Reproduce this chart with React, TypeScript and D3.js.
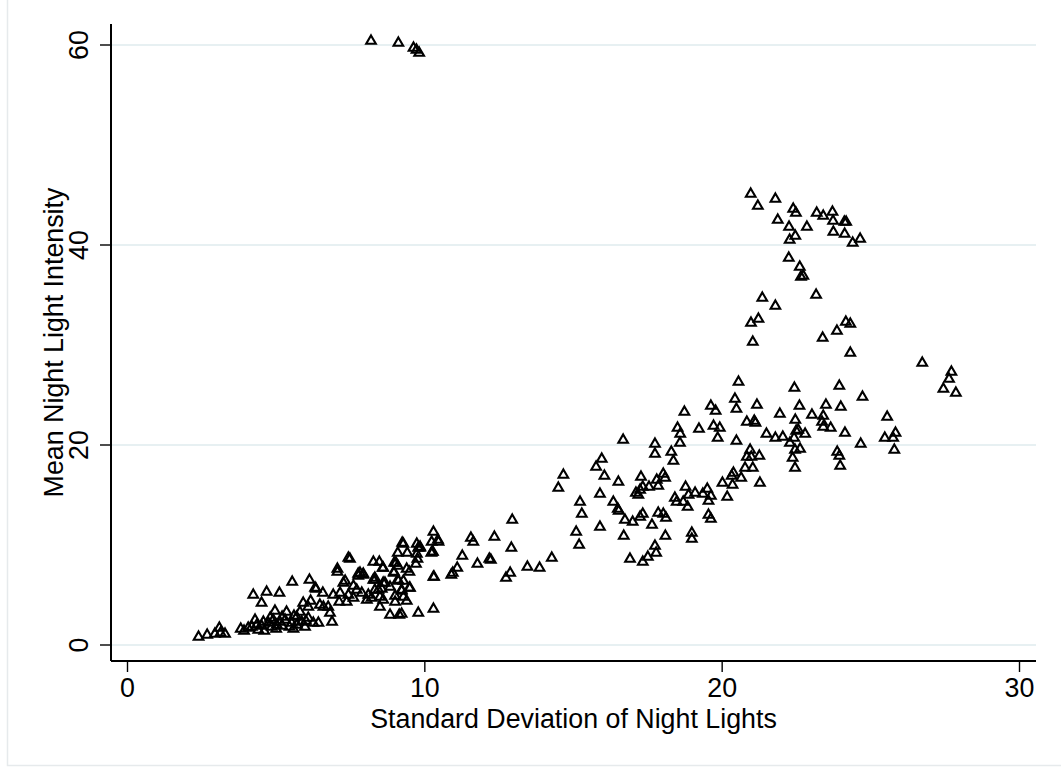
import React from 'react';
import * as d3 from 'd3';

// [standard deviation, mean]
const topOutliers: [number, number][] = [
  [8.19, 60.4], [9.11, 60.2], [9.62, 59.7], [9.72, 59.5], [9.81, 59.2],
];

const upperCluster: [number, number][] = [
  [20.96, 45.1], [21.2, 43.9], [21.79, 44.6], [22.39, 43.6], [22.48, 43.2], [21.87, 42.5],
  [22.25, 41.8], [22.85, 41.8], [22.46, 40.9], [22.27, 40.5], [23.18, 43.2], [23.4, 42.9],
  [23.71, 43.3], [23.73, 42.4], [24.11, 42.3], [24.17, 42.3], [23.74, 41.3], [24.12, 41.1],
  [24.39, 40.2], [24.64, 40.6], [22.24, 38.7], [22.61, 37.8], [22.65, 36.8], [22.73, 36.9],
  [23.16, 35.0], [21.35, 34.7], [21.79, 33.9], [21.22, 32.6], [20.97, 32.2], [21.03, 30.3],
  [24.16, 32.3], [24.31, 32.1], [23.86, 31.4], [23.38, 30.7], [24.31, 29.2], [26.73, 28.2],
  [27.71, 27.3], [27.63, 26.6], [27.44, 25.6], [27.86, 25.2],
];

const rightCluster: [number, number][] = [
  [20.55, 26.3], [22.43, 25.7], [23.94, 25.9], [24.72, 24.8], [20.43, 24.6], [20.48, 23.6],
  [21.17, 24.0], [19.62, 23.9], [19.78, 23.4], [18.73, 23.3], [22.6, 23.9], [23.49, 24.0],
  [23.99, 23.8], [21.94, 23.1], [23.02, 23.0], [23.4, 22.9], [25.55, 22.8], [18.5, 21.7],
  [18.59, 21.1], [19.22, 21.6], [19.71, 21.9], [19.92, 21.7], [19.85, 20.7], [20.48, 20.4],
  [20.83, 22.3], [21.08, 22.4], [21.12, 22.2], [22.46, 22.5], [21.49, 21.1], [21.79, 20.7],
  [22.04, 20.8], [22.49, 21.4], [22.56, 21.5], [22.79, 21.1], [22.42, 20.7], [22.28, 20.2],
  [23.36, 22.3], [23.4, 21.8], [23.65, 21.7], [24.13, 21.2], [24.66, 20.1], [25.47, 20.7],
  [25.75, 20.7], [25.83, 21.2], [25.79, 19.5], [17.74, 20.1], [17.74, 19.1], [18.29, 19.3],
  [18.36, 18.4], [18.58, 20.2], [22.45, 19.5], [22.62, 19.6], [22.37, 18.7], [22.45, 17.7],
  [23.87, 19.3], [23.94, 18.9], [23.97, 17.9], [20.94, 19.5], [20.83, 18.8], [20.98, 18.8],
  [21.25, 18.9], [20.77, 17.7], [21.03, 17.7], [20.38, 17.2], [20.32, 16.9], [20.64, 16.7],
  [20.01, 16.2], [20.35, 16.0], [21.27, 16.2], [20.17, 14.8], [19.35, 15.1], [19.5, 15.6],
  [19.62, 14.9], [19.54, 14.4], [19.54, 13.0], [19.62, 12.6], [18.87, 15.0],
];

const midCluster: [number, number][] = [
  [16.67, 20.5], [15.95, 18.6], [15.76, 17.8], [16.04, 16.9], [14.66, 17.0], [14.49, 15.7],
  [16.51, 16.3], [17.27, 16.8], [15.89, 15.1], [15.22, 14.3], [15.28, 13.1], [15.09, 11.3],
  [15.19, 10.0], [15.89, 11.8], [16.34, 14.3], [16.49, 13.6], [16.52, 13.4], [16.73, 12.5],
  [16.99, 12.3], [17.24, 12.8], [17.33, 13.1], [17.1, 15.2], [17.18, 15.0], [17.24, 15.5],
  [17.33, 15.8], [17.54, 15.8], [17.8, 16.5], [17.85, 15.9], [18.02, 17.1], [18.08, 16.7],
  [17.64, 12.0], [17.85, 13.2], [18.02, 13.1], [18.11, 12.7], [18.09, 10.9], [16.69, 10.9],
  [17.74, 9.9], [17.78, 9.2], [17.5, 8.8], [17.33, 8.3], [16.9, 8.6], [18.77, 15.8],
  [18.41, 14.7], [18.47, 14.3], [18.69, 14.3], [18.84, 13.8], [19.09, 15.2], [18.98, 11.2],
  [18.98, 10.6], [12.94, 12.5], [12.91, 9.7], [12.87, 7.2], [12.73, 6.7], [13.45, 7.8],
  [13.86, 7.7], [14.27, 8.7], [12.34, 10.8], [12.17, 8.6], [12.22, 8.5], [11.77, 8.1],
  [11.55, 10.7], [11.63, 10.3], [11.26, 8.9], [11.09, 7.7], [10.94, 7.2], [10.89, 7.0],
  [10.29, 11.3], [10.44, 10.5], [10.27, 9.3], [10.22, 9.2], [10.31, 6.8],
];

const lowCluster: [number, number][] = [
  [9.73, 10.1], [9.84, 9.7], [9.75, 8.6], [9.7, 8.1], [9.24, 10.2], [9.09, 9.2], [9.41, 9.2],
  [9.03, 8.2], [9.09, 7.9], [9.39, 7.6], [9.48, 7.3], [8.96, 7.3], [8.58, 7.7], [8.27, 8.3],
  [8.47, 8.3], [8.32, 6.7], [8.32, 6.5], [8.6, 6.2], [7.76, 7.1], [7.93, 7.1], [9.11, 6.4],
  [9.28, 6.4], [9.48, 5.7], [9.22, 5.4], [7.48, 8.6], [7.6, 5.9], [8.32, 5.5], [8.55, 5.6],
  [9.0, 4.9], [2.39, 0.8], [2.68, 1.0], [2.94, 1.1], [3.09, 1.7], [3.13, 1.2], [3.28, 1.1],
  [3.81, 1.6], [3.92, 1.4], [4.06, 1.7], [4.18, 1.8], [4.29, 2.5], [4.35, 2.0], [4.51, 1.9],
  [4.57, 2.3], [4.74, 2.2], [4.85, 1.8], [4.9, 2.5], [5.02, 2.0], [5.13, 2.3], [5.3, 2.5],
  [5.35, 3.3], [5.52, 2.2], [5.58, 1.6], [5.69, 2.8], [5.8, 3.3], [5.86, 2.3], [5.91, 4.2],
  [5.97, 1.8], [6.08, 2.7], [6.08, 3.8], [6.16, 4.4], [6.25, 2.2], [6.42, 2.2], [6.34, 5.6],
  [6.47, 4.0], [6.59, 3.8], [6.75, 3.8], [6.81, 3.2], [6.88, 2.3], [6.57, 5.2], [6.92, 5.0],
  [7.06, 7.6], [7.06, 7.3], [7.26, 6.2], [7.32, 6.4], [7.15, 5.2], [7.12, 4.3], [7.43, 5.0],
  [7.37, 4.3], [7.43, 8.7], [7.71, 5.5], [7.76, 6.9], [7.93, 7.0], [7.88, 5.2], [8.05, 4.5],
  [8.21, 4.7], [8.27, 6.5], [8.44, 5.5], [8.49, 4.8], [8.6, 7.7], [8.66, 6.2], [8.83, 5.8],
  [8.97, 8.2], [8.96, 7.2], [9.09, 6.5], [9.22, 5.5], [9.28, 4.8], [9.39, 4.4], [9.5, 5.7],
  [9.0, 4.3], [8.83, 3.0], [9.14, 3.0], [9.22, 3.1], [9.78, 3.2], [10.29, 3.6], [10.29, 6.8],
  [9.73, 9.1], [9.78, 9.7], [9.28, 10.1], [10.25, 9.3], [10.46, 10.3], [10.23, 10.3],
  [9.84, 9.8], [7.82, 7.2], [4.23, 5.0], [4.51, 4.2], [4.68, 5.3], [5.11, 5.2], [5.54, 6.3],
  [6.12, 6.5], [6.31, 5.7], [4.96, 3.4], [7.6, 4.7], [8.1, 5.0], [8.6, 4.5], [8.49, 3.8],
  [4.4, 1.5], [4.6, 1.4], [5.0, 1.6], [5.2, 1.9], [5.45, 1.8], [5.7, 2.0], [6.0, 2.4],
  [5.6, 2.9], [5.2, 2.8], [4.8, 2.7],
];

const xTicks = [0, 10, 20, 30];
const yTicks = [0, 20, 40, 60];
const xTitle = 'Standard Deviation of Night Lights';
const yTitle = 'Mean Night Light Intensity';

const W = 1061;
const H = 767;
const plot = { left: 111, right: 1036, top: 24, bottom: 661 };
const font = '"Liberation Sans", Arial, sans-serif';
const fontSize = 26.8;

export default function App() {
  const x = d3.scaleLinear().domain([0, 30]).range([127.5, 1019.5]);
  const y = d3.scaleLinear().domain([0, 60]).range([645, 45]);
  const tri = d3.symbol(d3.symbolTriangle, 40)() as string;

  const points = [...lowCluster, ...midCluster, ...rightCluster, ...upperCluster, ...topOutliers];
  const midX = (plot.left + plot.right) / 2;
  const midY = (plot.top + plot.bottom) / 2;

  return (
    <svg width={W} height={H} style={{ position: 'absolute', left: 0, top: 0, background: '#fff' }}
      fontFamily={font}>
      <rect x={7.5} y={-5} width={W + 10} height={770.5} fill="#fff" stroke="#e6eaec" strokeWidth={1.5} />

      {yTicks.map(t => (
        <line key={'g' + t} x1={plot.left} x2={plot.right} y1={y(t)} y2={y(t)}
          stroke="#e7f0f2" strokeWidth={2} />
      ))}

      {points.map((d, i) => (
        <path key={i} d={tri} transform={`translate(${x(d[0])},${y(d[1])})`}
          fill="none" stroke="#000" strokeWidth={2.1} />
      ))}

      <line x1={plot.left} x2={plot.left} y1={plot.top} y2={plot.bottom} stroke="#000" strokeWidth={2} />
      <line x1={plot.left} x2={plot.right} y1={plot.bottom} y2={plot.bottom} stroke="#000" strokeWidth={2} />

      {yTicks.map(t => (
        <g key={'y' + t}>
          <line x1={plot.left - 11} x2={plot.left} y1={y(t)} y2={y(t)} stroke="#000" strokeWidth={1.4} />
          <text transform={`translate(88,${y(t)}) rotate(-90)`} textAnchor="middle"
            fontSize={fontSize} fill="#000">{t}</text>
        </g>
      ))}
      {xTicks.map(t => (
        <g key={'x' + t}>
          <line x1={x(t)} x2={x(t)} y1={plot.bottom} y2={plot.bottom + 11} stroke="#000" strokeWidth={1.4} />
          <text x={x(t)} y={697} textAnchor="middle" fontSize={fontSize} fill="#000">{t}</text>
        </g>
      ))}

      <text x={midX} y={728} textAnchor="middle" fontSize={fontSize} fill="#000">{xTitle}</text>
      <text transform={`translate(63,${midY}) rotate(-90)`} textAnchor="middle"
        fontSize={fontSize} fill="#000">{yTitle}</text>
    </svg>
  );
}
